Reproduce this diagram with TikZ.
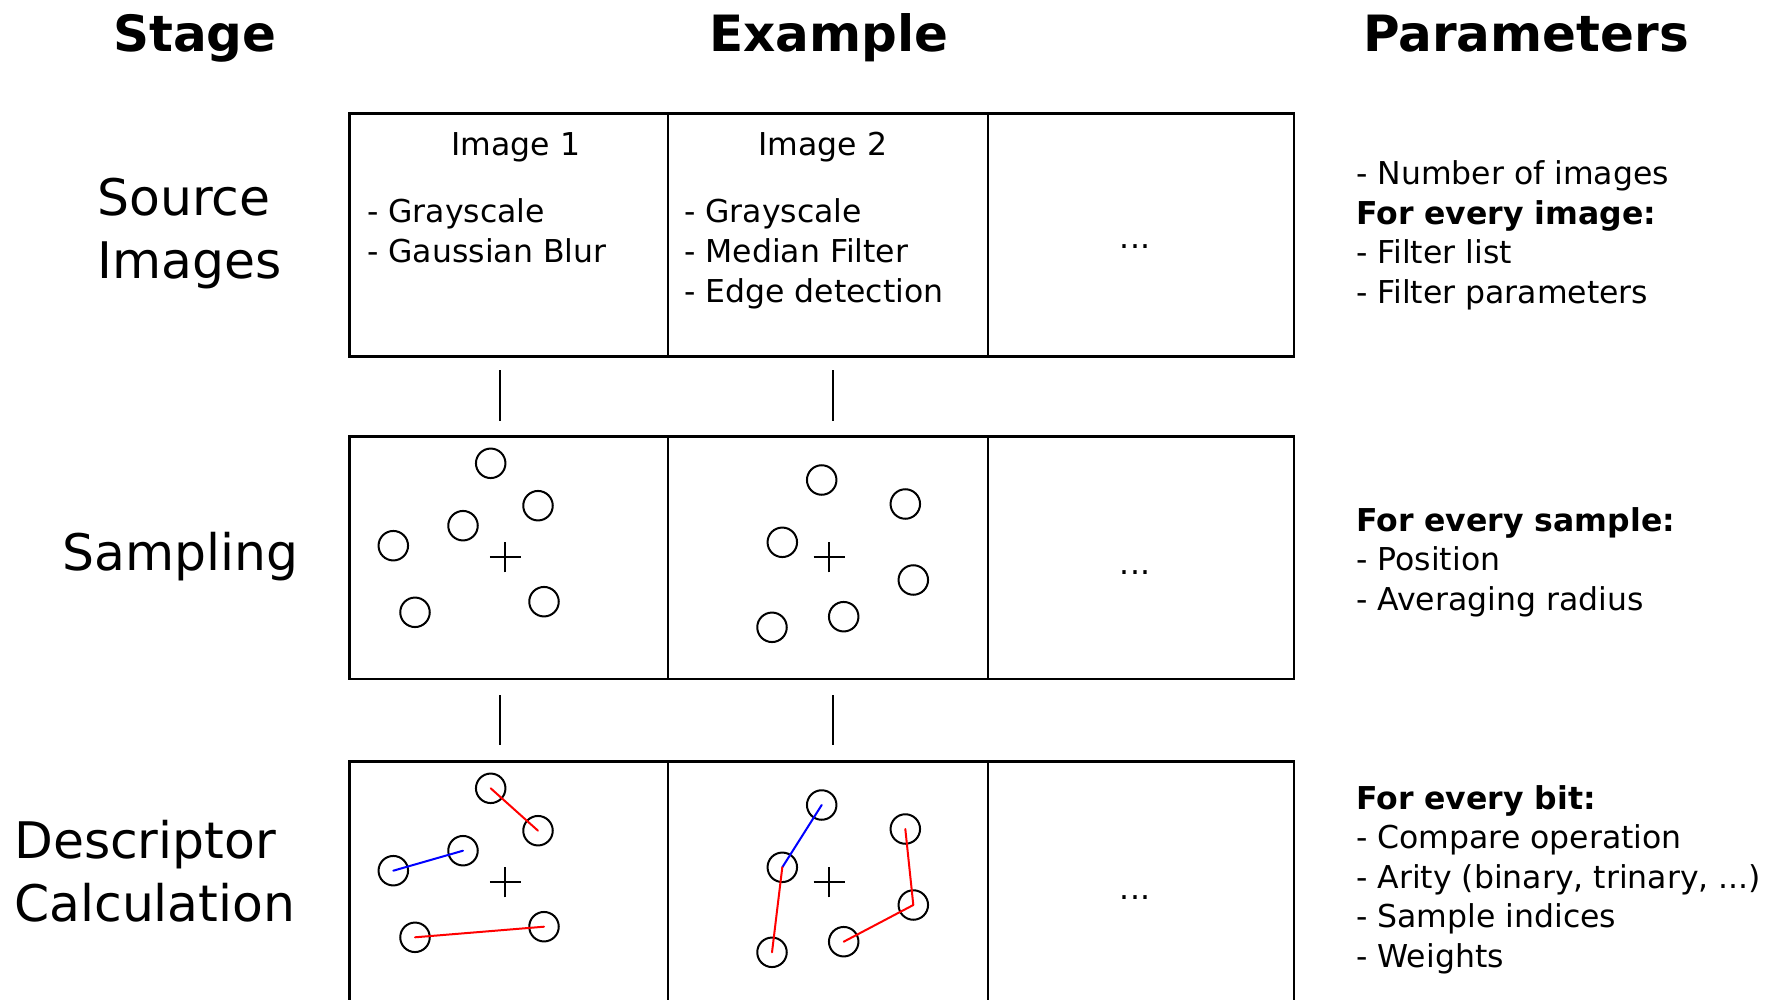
\documentclass[tikz,border=0pt]{standalone}
\usepackage{fontspec}
\setmainfont{DejaVu Sans}
\begin{document}
\begin{tikzpicture}[x=1pt,y=-1pt,
  cell/.style={draw=black, line width=2.6pt, inner sep=0pt, minimum height=242.5pt, anchor=north west},
  sample/.style={circle, draw=black, line width=2pt, minimum size=29.5pt, inner sep=0pt},
  centre/.style={line width=2pt},
  redpair/.style={draw=red, line width=2pt, line cap=round},
  bluepair/.style={draw=blue, line width=2pt, line cap=round},
  link/.style={line width=2.2pt},
  head/.style={font=\fontsize{50}{60}\selectfont\bfseries, inner sep=0pt, anchor=base},
  stage/.style={font=\fontsize{50.4}{63}\selectfont, inner sep=0pt, align=left, anchor=base west},
  body/.style={font=\fontsize{31.5}{39.6}\selectfont, inner sep=0pt, align=left, anchor=base west},
  more/.style={font=\fontsize{31.5}{39.6}\selectfont, inner sep=0pt, anchor=base}]
\useasboundingbox (0,0) rectangle (1775,1000);
\clip (0,0) rectangle (1775,1000);

% column headings
\node[head] (hstage) at (195,52) {Stage};
\node[head] (hexample) at (829,52) {Example};
\node[head] (hparams) at (1526,52) {Parameters};

% stage names (placed by the baseline of their last line)
\node[stage] (lsource) at (97,279) {Source\\Images};
\node[stage] (lsampling) at (62,570.5) {Sampling};
\node[stage] (ldesc) at (14,921) {Descriptor\\Calculation};

% example cells: three rows of three columns
\foreach \r/\top/\h in {1/112.5/242.5, 2/435/242.5, 3/760/300} {
  \node[cell, minimum width=318.4pt, minimum height=\h pt] (c\r1) at (348.3,\top) {};
  \node[cell, minimum width=320pt, minimum height=\h pt] (c\r2) at (666.7,\top) {};
  \node[cell, minimum width=306.1pt, minimum height=\h pt] (c\r3) at (986.7,\top) {};
}

% source image cell contents
\node[more] (img1) at (516,156) {Image 1};
\node[more] (img2) at (823,156) {Image 2};
\node[body] (f1) at (367,262.6) {- Grayscale\\- Gaussian Blur};
\node[body] (f2) at (684,302.2) {- Grayscale\\- Median Filter\\- Edge detection};
\node[more] (dots1) at (1135,249) {...};
\node[more] (dots2) at (1135,574) {...};
\node[more] (dots3) at (1135,899) {...};

% links between the stages
\coordinate (k1a) at (500.3,370);
\coordinate (k1b) at (500.3,421);
\coordinate (k2a) at (833.2,370);
\coordinate (k2b) at (833.2,421);
\coordinate (k3a) at (500.3,695);
\coordinate (k3b) at (500.3,745);
\coordinate (k4a) at (833.2,695);
\coordinate (k4b) at (833.2,745);
\draw[link] (k1a) -- (k1b);
\draw[link] (k2a) -- (k2b);
\draw[link] (k3a) -- (k3b);
\draw[link] (k4a) -- (k4b);

% sample points around the keypoint, for the sampling and descriptor rows
\foreach \r/\dy in {s/0, d/325} {
  \node[sample] (\r A) at (490.7,463.3+\dy) {};
  \node[sample] (\r B) at (538,505.7+\dy) {};
  \node[sample] (\r C) at (463,525.7+\dy) {};
  \node[sample] (\r D) at (393.3,545.7+\dy) {};
  \node[sample] (\r E) at (415,612.3+\dy) {};
  \node[sample] (\r F) at (544,601.7+\dy) {};
  \coordinate (\r P) at (505.3,557.3+\dy);
  \draw[centre] ([xshift=-15.5pt]\r P) -- ([xshift=15.5pt]\r P)
                ([yshift=-15pt]\r P) -- ([yshift=15pt]\r P);
  \node[sample] (\r G) at (821.7,480+\dy) {};
  \node[sample] (\r H) at (905.3,504+\dy) {};
  \node[sample] (\r I) at (782.3,542.3+\dy) {};
  \node[sample] (\r J) at (913.3,580+\dy) {};
  \node[sample] (\r K) at (843.7,616.7+\dy) {};
  \node[sample] (\r L) at (772,627.3+\dy) {};
  \coordinate (\r Q) at (829,557.3+\dy);
  \draw[centre] ([xshift=-15.5pt]\r Q) -- ([xshift=15.5pt]\r Q)
                ([yshift=-15pt]\r Q) -- ([yshift=15pt]\r Q);
}

% comparisons between samples
\draw[redpair] (dA.center) -- (dB.center);
\draw[bluepair] (dD.center) -- (dC.center);
\draw[redpair] (dE.center) -- (dF.center);
\draw[bluepair] (dG.center) -- (dI.center);
\draw[redpair] (dI.center) -- (dL.center);
\draw[redpair, line join=round] (dH.center) -- (dJ.center) -- (dK.center);

% parameters of each stage (placed by the baseline of their last line)
\node[body] (psource) at (1356,303.3) {- Number of images\\\textbf{For every image:}\\- Filter list\\- Filter parameters};
\node[body] (psampling) at (1356,610.2) {\textbf{For every sample:}\\- Position\\- Averaging radius};
\node[body] (pdesc) at (1356,967.4) {\textbf{For every bit:}\\- Compare operation\\- Arity (binary, trinary, ...)\\- Sample indices\\- Weights};
\end{tikzpicture}
\end{document}
